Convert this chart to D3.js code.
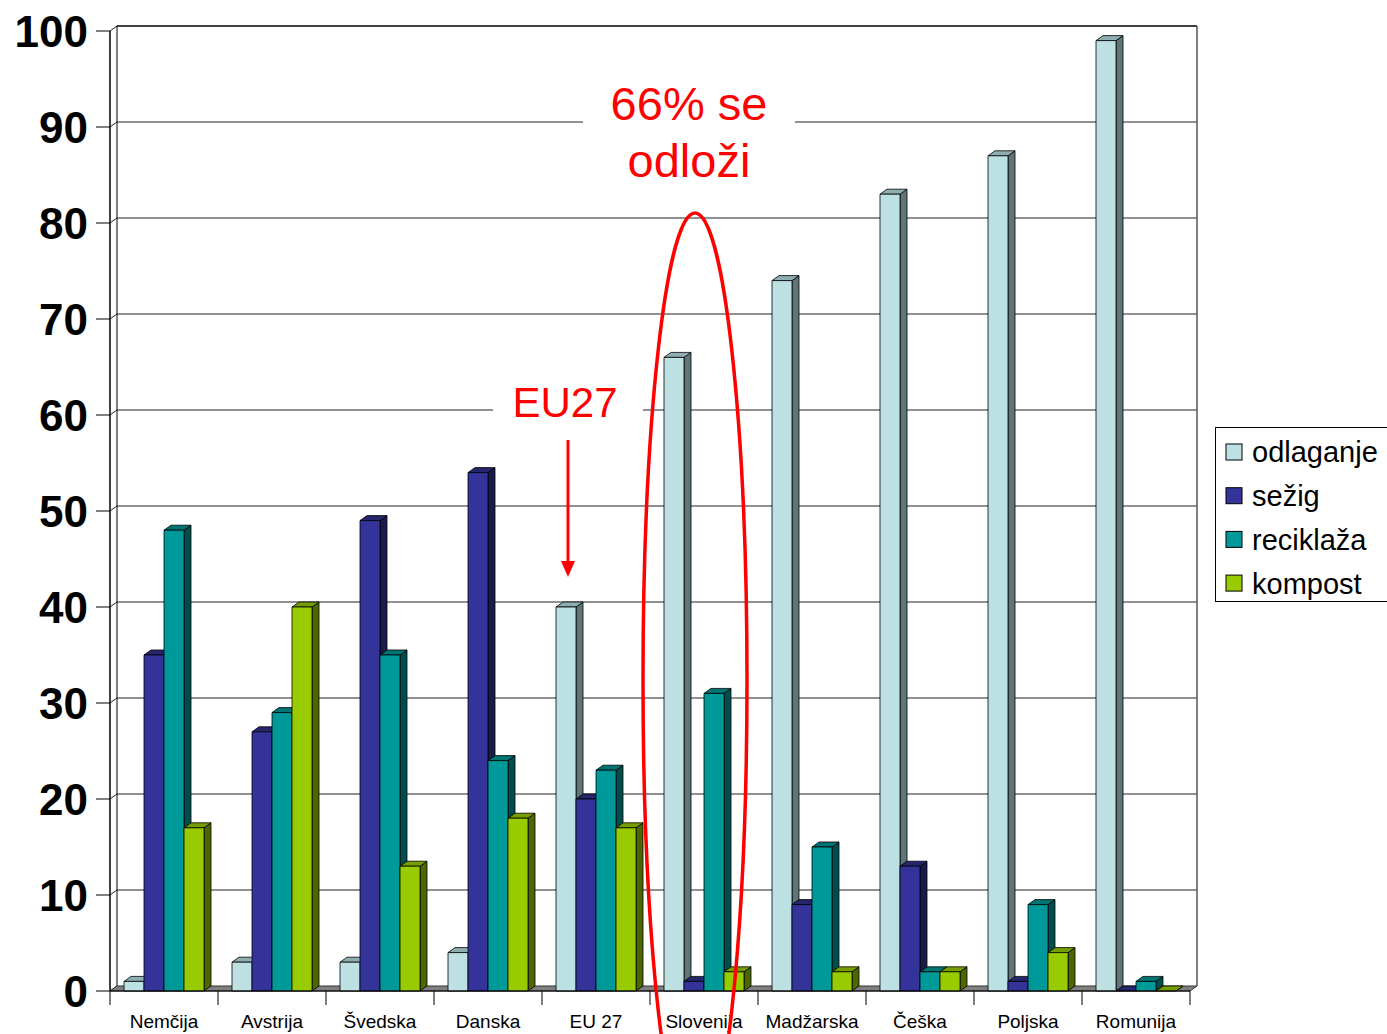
<!DOCTYPE html>
<html><head><meta charset="utf-8">
<script src="https://cdn.jsdelivr.net/npm/d3@7"></script>
<style>body{margin:0;background:#fff}svg{display:block}</style>
</head><body>
<script>
const categories = ["Nemčija","Avstrija","Švedska","Danska","EU 27","Slovenija","Madžarska","Češka","Poljska","Romunija"];
const seriesNames = ["odlaganje","sežig","reciklaža","kompost"];
const odlaganje = [1,3,3,4,40,66,74,83,87,99];
const sezig     = [35,27,49,54,20,1,9,13,1,0];
const reciklaza = [48,29,35,24,23,31,15,2,9,1];
const kompost   = [17,40,13,18,17,2,2,2,4,0];
const yTicks = [0,10,20,30,40,50,60,70,80,90,100];
const seriesValues = [odlaganje, sezig, reciklaza, kompost];
const colors = {
  front: ["#BDE0E3","#333399","#009999","#99CC00"],
  top:   ["#8FAEB1","#26266F","#007373","#779E00"],
  side:  ["#5F7577","#1A1A4D","#004D4D","#4D6600"]
};

const W = 1387, H = 1034;
const svg = d3.select("body").append("svg").attr("width", W).attr("height", H);
const font = "'Liberation Sans', Arial, sans-serif";

const dx = 7, dy = -5;
const x0 = d3.scaleBand().domain(categories).range([110, 1190]).padding(0);
const x1 = d3.scaleBand().domain(seriesNames).range([14, 94]).padding(0);
const y = d3.scaleLinear().domain([0, 100]).range([991, 31]);

// back wall gridlines
const g = svg.append("g");
yTicks.forEach(t => {
  const yf = y(t), yb = y(t) + dy;
  if (t > 0) g.append("line").attr("x1", 110 + dx).attr("x2", 1190 + dx).attr("y1", yb).attr("y2", yb)
    .attr("stroke", t === 100 ? "#000" : "#222").attr("stroke-width", t === 100 ? 1.5 : 1);
  g.append("line").attr("x1", 110).attr("x2", 110 + dx).attr("y1", yf).attr("y2", yb).attr("stroke", "#222");
  g.append("line").attr("x1", 96).attr("x2", 110).attr("y1", yf).attr("y2", yf).attr("stroke", "#000");
});
// walls
g.append("line").attr("x1", 110).attr("x2", 110).attr("y1", y(100)).attr("y2", y(0)).attr("stroke", "#000").attr("stroke-width", 1.5);
g.append("line").attr("x1", 110 + dx).attr("x2", 110 + dx).attr("y1", y(100) + dy).attr("y2", y(0) + dy).attr("stroke", "#000");
g.append("line").attr("x1", 1190 + dx).attr("x2", 1190 + dx).attr("y1", y(100) + dy).attr("y2", y(0) + dy).attr("stroke", "#555").attr("stroke-width", 1.5);

// floor
g.append("path").attr("d", `M110,${y(0)}L1190,${y(0)}L${1190+dx},${y(0)+dy}L${110+dx},${y(0)+dy}Z`)
  .attr("fill", "#808080").attr("stroke", "#333").attr("stroke-width", 1);

// y labels
svg.append("g").selectAll("text").data(yTicks).join("text")
  .attr("x", 88).attr("y", d => y(d)).attr("dy", "0.36em")
  .attr("text-anchor", "end").attr("font-family", font).attr("font-weight", "bold")
  .attr("font-size", 44).attr("fill", "#000").text(d => d);

// bars
const bg = svg.append("g").attr("stroke", "#000").attr("stroke-width", 0.8).attr("stroke-linejoin", "round");
categories.forEach((c, ci) => {
  seriesNames.forEach((s, si) => {
    const v = seriesValues[si][ci];
    const xl = x0(c) + x1(s), w = x1.bandwidth();
    const yt = y(v), yb = y(0);
    // side
    bg.append("path").attr("d", `M${xl+w},${yt}L${xl+w+dx},${yt+dy}L${xl+w+dx},${yb+dy}L${xl+w},${yb}Z`).attr("fill", colors.side[si]);
    // top
    bg.append("path").attr("d", `M${xl},${yt}L${xl+dx},${yt+dy}L${xl+w+dx},${yt+dy}L${xl+w},${yt}Z`).attr("fill", colors.top[si]);
    // front
    bg.append("rect").attr("x", xl).attr("y", yt).attr("width", w).attr("height", yb - yt).attr("fill", colors.front[si]);
  });
});

// category axis
const ax = svg.append("g");
ax.append("line").attr("x1", 110).attr("x2", 1190).attr("y1", y(0)).attr("y2", y(0)).attr("stroke", "#000").attr("stroke-width", 1.2);
categories.concat([null]).forEach((c, i) => {
  const xx = 110 + i * x0.step();
  ax.append("line").attr("x1", xx).attr("x2", xx).attr("y1", y(0)).attr("y2", y(0) + 14).attr("stroke", "#000");
});
ax.selectAll("text").data(categories).join("text")
  .attr("x", d => x0(d) + x0.bandwidth() / 2).attr("y", 1028)
  .attr("text-anchor", "middle").attr("font-family", font).attr("font-size", 19).attr("fill", "#000").text(d => d);

// legend
const lg = svg.append("g");
lg.append("rect").attr("x", 1215.5).attr("y", 427.5).attr("width", 200).attr("height", 174)
  .attr("fill", "#fff").attr("stroke", "#000").attr("stroke-width", 1);
seriesNames.forEach((s, i) => {
  const cy = 452 + i * 43.7;
  lg.append("rect").attr("x", 1226).attr("y", cy - 8).attr("width", 16).attr("height", 16)
    .attr("fill", colors.front[i]).attr("stroke", "#000").attr("stroke-width", 1);
  lg.append("text").attr("x", 1252).attr("y", cy).attr("dy", "0.36em")
    .attr("font-family", font).attr("font-size", 29).attr("fill", "#000").text(s);
});

// annotations
const an = svg.append("g");
an.append("rect").attr("x", 583).attr("y", 78).attr("width", 212).attr("height", 108).attr("fill", "#fff");
an.append("text").attr("x", 689).attr("y", 120).attr("text-anchor", "middle").attr("font-family", font)
  .attr("font-size", 47).attr("fill", "#FF0000").text("66% se");
an.append("text").attr("x", 689).attr("y", 177).attr("text-anchor", "middle").attr("font-family", font)
  .attr("font-size", 47).attr("fill", "#FF0000").text("odloži");
an.append("rect").attr("x", 493).attr("y", 378).attr("width", 150).attr("height", 48).attr("fill", "#fff");
an.append("text").attr("x", 565).attr("y", 417).attr("text-anchor", "middle").attr("font-family", font)
  .attr("font-size", 42).attr("fill", "#FF0000").text("EU27");
an.append("line").attr("x1", 568).attr("x2", 568).attr("y1", 440).attr("y2", 562).attr("stroke", "#FF0000").attr("stroke-width", 3);
an.append("path").attr("d", "M561,561L575,561L568,577Z").attr("fill", "#FF0000");
an.append("ellipse").attr("cx", 695).attr("cy", 680).attr("rx", 52).attr("ry", 467)
  .attr("fill", "none").attr("stroke", "#FF0000").attr("stroke-width", 3.5);
</script>
</body></html>
